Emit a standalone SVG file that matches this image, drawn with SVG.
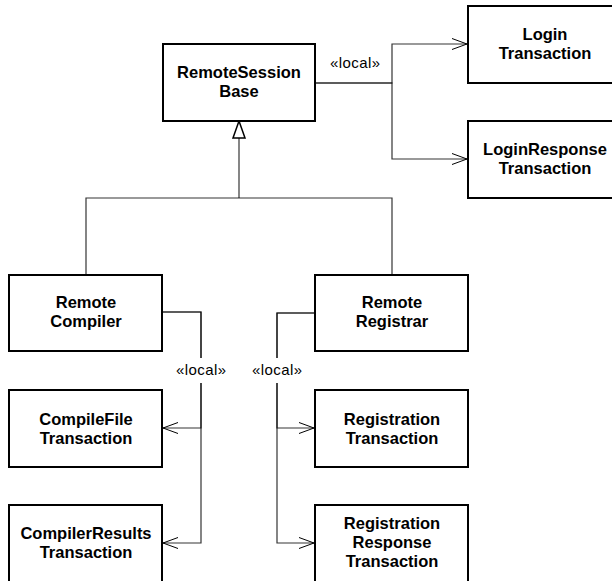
<svg xmlns="http://www.w3.org/2000/svg" width="612" height="581" viewBox="0 0 612 581">
<defs>
<style>
.box{fill:#fff;stroke:#000;stroke-width:2}
.t{font-family:"Liberation Sans",Arial,sans-serif;font-weight:bold;font-size:16.5px;fill:#000;text-anchor:middle}
.lbl{font-family:"Liberation Sans",Arial,sans-serif;font-size:15px;fill:#000;text-anchor:middle}
.c{fill:none;stroke:#000;stroke-opacity:0.8;stroke-width:1.2}
.gen{fill:#fff;stroke:#000;stroke-width:1.5}
</style>
<marker id="open" markerUnits="userSpaceOnUse" viewBox="0 0 16 12" refX="15" refY="6" markerWidth="16" markerHeight="12" orient="auto">
<path d="M0,0.5 L15,6 L0,11.5" fill="none" stroke="#000" stroke-width="1"/>
</marker>
</defs>
<rect width="612" height="581" fill="#fff"/>
<g id="connectors">
<polyline class="c" points="315,83 392,83 392,44 467,44" marker-end="url(#open)"/>
<polyline class="c" points="315,83 392,83 392,159 467,159" marker-end="url(#open)"/>
<line class="c" x1="239" y1="138" x2="239" y2="198"/>
<polyline class="c" points="86,275 86,198 392,198 392,275"/>
<polygon class="gen" points="239,121 233,138 245,138"/>
<polyline class="c" points="162,312 201,312 201,428 163,428" marker-end="url(#open)"/>
<polyline class="c" points="162,312 201,312 201,543 163,543" marker-end="url(#open)"/>
<polyline class="c" points="315,313 277,313 277,428 314,428" marker-end="url(#open)"/>
<polyline class="c" points="315,313 277,313 277,543 314,543" marker-end="url(#open)"/>
<text class="lbl" x="355" y="68" textLength="50" lengthAdjust="spacing">«local»</text>
<rect x="176" y="358" width="112" height="25" fill="#fff"/>
<text class="lbl" x="201" y="375" textLength="50" lengthAdjust="spacing">«local»</text>
<text class="lbl" x="277" y="375" textLength="50" lengthAdjust="spacing">«local»</text>
</g>
<g id="RemoteSessionBase">
<rect class="box" x="163" y="44" width="152" height="77"/>
<text class="t" x="239" y="78">RemoteSession</text>
<text class="t" x="239" y="97">Base</text>
</g>
<g id="LoginTransaction">
<rect class="box" x="468" y="6" width="153" height="77"/>
<text class="t" x="545" y="40">Login</text>
<text class="t" x="545" y="59">Transaction</text>
</g>
<g id="LoginResponseTransaction">
<rect class="box" x="468" y="121" width="153" height="77"/>
<text class="t" x="545" y="155">LoginResponse</text>
<text class="t" x="545" y="174">Transaction</text>
</g>
<g id="RemoteCompiler">
<rect class="box" x="9" y="275" width="153" height="76"/>
<text class="t" x="86" y="308">Remote</text>
<text class="t" x="86" y="327">Compiler</text>
</g>
<g id="RemoteRegistrar">
<rect class="box" x="315" y="275" width="153" height="76"/>
<text class="t" x="392" y="308">Remote</text>
<text class="t" x="392" y="327">Registrar</text>
</g>
<g id="CompileFileTransaction">
<rect class="box" x="9" y="390" width="153" height="77"/>
<text class="t" x="86" y="425">CompileFile</text>
<text class="t" x="86" y="444">Transaction</text>
</g>
<g id="CompilerResultsTransaction">
<rect class="box" x="9" y="505" width="153" height="78"/>
<text class="t" x="86" y="539">CompilerResults</text>
<text class="t" x="86" y="558">Transaction</text>
</g>
<g id="RegistrationTransaction">
<rect class="box" x="315" y="390" width="153" height="77"/>
<text class="t" x="392" y="425">Registration</text>
<text class="t" x="392" y="444">Transaction</text>
</g>
<g id="RegistrationResponseTransaction">
<rect class="box" x="315" y="505" width="153" height="78"/>
<text class="t" x="392" y="529">Registration</text>
<text class="t" x="392" y="548">Response</text>
<text class="t" x="392" y="567">Transaction</text>
</g>
</svg>
